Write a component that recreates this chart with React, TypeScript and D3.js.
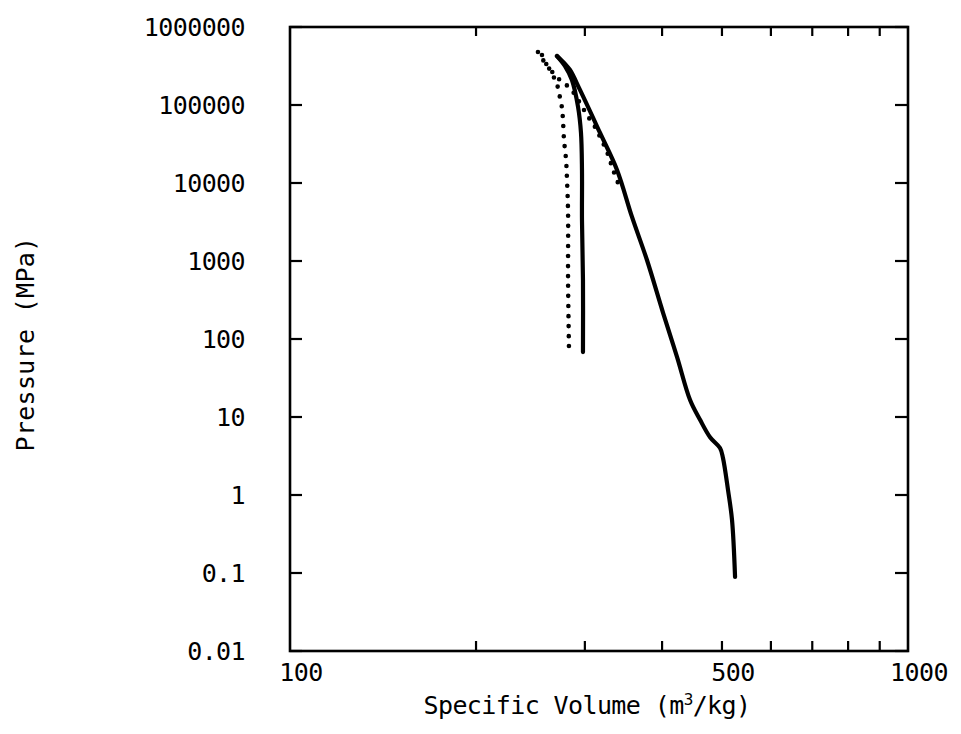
import React from "react";
import * as d3 from "d3";

// ---- data ----
const solidSteepVolume = [270.4, 278.6, 285.9, 292.5, 295.7, 296.8, 296.8, 297.9, 297.9];
const solidSteepPressure = [425000, 316000, 209000, 94200, 43800, 14700, 3350, 571, 68];

const solidLongVolume = [270.4, 278.6, 283.9, 294.6, 317.5, 338.2, 357.6, 378.1, 401.6, 423.0, 444.0, 460.8, 478.3, 496.4, 501.9, 511.4, 519.1, 525.0];
const solidLongPressure = [425000, 336000, 281000, 156000, 43800, 14700, 3670, 1030, 215, 58.7, 16.5, 9.2, 5.5, 4.0, 2.98, 1.16, 0.478, 0.089];

const dottedSteepVolume = [251.9, 256.7, 263.5, 268.5, 271.5, 273.5, 275.5, 276.5, 277.6, 279.7, 280.7, 281.8, 281.8, 282.8];
const dottedSteepPressure = [478000, 378000, 281000, 209000, 165000, 123000, 91600, 64300, 35600, 19700, 10900, 4130, 571, 70];

const dottedLongVolume = [255.7, 261.5, 268.5, 275.5, 283.9, 294.6, 302.4, 311.6, 317.5, 325.9, 333.3, 342.0];
const dottedLongPressure = [438000, 307000, 243000, 197000, 165000, 106000, 74500, 52300, 38900, 24900, 14700, 8630];

const yTickValues = [0.01, 0.1, 1, 10, 100, 1000, 10000, 100000, 1000000];
const yTickLabels = ["0.01", "0.1", "1", "10", "100", "1000", "10000", "100000", "1000000"];
const xMinorTicks = [200, 300, 400, 500, 600, 700, 800, 900];
const xLabelValues = [100, 500, 1000];
const xLabelTexts = ["100", "500", "1000"];

const W = 961;
const H = 734;
const left = 290, right = 908, top = 27, bottom = 651;

export default function App() {
  const x = d3.scaleLog().domain([100, 1000]).range([left, right]);
  const y = d3.scaleLog().domain([0.01, 1000000]).range([bottom, top]);

  const mk = (vs: number[], ps: number[]) =>
    d3
      .line<number>()
      .x((_, i) => x(vs[i]))
      .y((_, i) => y(ps[i]))
      .curve(d3.curveCatmullRom.alpha(0.5))(vs) as string;

  const font = "'DejaVu Sans Mono', monospace";
  const textStyle: React.CSSProperties = { fontFamily: font, fontSize: 25, letterSpacing: -0.6 };

  return (
    <svg width={W} height={H} style={{ position: "absolute", left: 0, top: 0, background: "#fff" }}>
      <rect x={0} y={0} width={W} height={H} fill="#fff" />
      {/* frame */}
      <rect x={left} y={top} width={right - left} height={bottom - top} fill="none" stroke="#000" strokeWidth={2.6} />
      {/* y ticks */}
      {yTickValues.map((v, i) => (
        <g key={"y" + i}>
          <line x1={left} x2={left + 12} y1={y(v)} y2={y(v)} stroke="#000" strokeWidth={2.2} />
          <line x1={right} x2={right - 13} y1={y(v)} y2={y(v)} stroke="#000" strokeWidth={2.2} />
          <text x={left - 45} y={y(v)} dy="0.36em" textAnchor="end" style={textStyle}>
            {yTickLabels[i]}
          </text>
        </g>
      ))}
      {/* x ticks */}
      {xMinorTicks.map((v, i) => (
        <g key={"x" + i}>
          <line x1={x(v)} x2={x(v)} y1={bottom} y2={bottom - 10} stroke="#000" strokeWidth={2.2} />
          <line x1={x(v)} x2={x(v)} y1={top} y2={top + 9} stroke="#000" strokeWidth={2.2} />
        </g>
      ))}
      {xLabelValues.map((v, i) => (
        <text key={"xl" + i} x={x(v) + 11} y={681} textAnchor="middle" style={textStyle}>
          {xLabelTexts[i]}
        </text>
      ))}
      {/* axis titles */}
      <text x={587} y={714} textAnchor="middle" style={textStyle}>
        Specific Volume (m<tspan dy={-9} fontSize={16}>3</tspan>
        <tspan dy={9}>/kg)</tspan>
      </text>
      <text
        transform={`translate(34,344) rotate(-90)`}
        textAnchor="middle"
        style={{ ...textStyle, letterSpacing: 0.3 }}
      >
        Pressure (MPa)
      </text>
      {/* curves */}
      <path d={mk(solidSteepVolume, solidSteepPressure)} fill="none" stroke="#000" strokeWidth={4.2} strokeLinecap="round" />
      <path d={mk(solidLongVolume, solidLongPressure)} fill="none" stroke="#000" strokeWidth={4.2} strokeLinecap="round" />
      <path d={mk(dottedSteepVolume, dottedSteepPressure)} fill="none" stroke="#000" strokeWidth={4.6} strokeLinecap="round" strokeDasharray="0 10" />
      <path d={mk(dottedLongVolume, dottedLongPressure)} fill="none" stroke="#000" strokeWidth={4.6} strokeLinecap="round" strokeDasharray="0 10" />
    </svg>
  );
}
